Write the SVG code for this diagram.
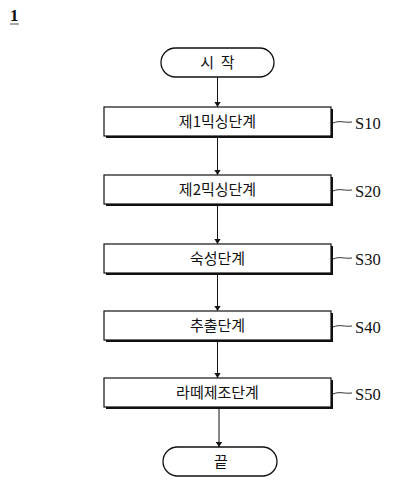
<svg xmlns="http://www.w3.org/2000/svg" width="409" height="492" viewBox="0 0 409 492">
<defs>
<marker id="arr" viewBox="0 0 8 10" refX="8" refY="5" markerWidth="5" markerHeight="7" markerUnits="userSpaceOnUse" orient="auto"><path d="M0,0 L8,5 L0,10 z" fill="#111"/></marker>
<style>
.box{fill:#fff;stroke:#111;stroke-width:1.2}
.sh{fill:#111}
.term{fill:#fff;stroke:#111;stroke-width:1.3}
.t{font-family:"Noto Sans CJK KR","Noto Sans",sans-serif;font-size:15px;fill:#111;text-anchor:middle}
.lab{font-family:"Liberation Serif",serif;font-size:16.5px;fill:#111}
.lead{fill:none;stroke:#333;stroke-width:1}
.con{stroke:#111;stroke-width:1;fill:none;marker-end:url(#arr)}
</style>
</defs>
<rect width="409" height="492" fill="#fff"/>
<g id="figlabel">
<text x="10" y="21" font-family="Liberation Serif,serif" font-weight="bold" font-size="17" fill="#111">1</text>
<line x1="10" y1="24" x2="19" y2="24" stroke="#555" stroke-width="1"/>
</g>
<g id="start">
<rect class="term" x="161" y="48" width="113" height="29" rx="14.5"/>
<text class="t" x="217.5" y="68" xml:space="preserve">시  작</text>
</g>
<g id="s10">
<rect class="sh" x="106" y="109" width="227" height="29"/>
<rect class="box" x="104" y="107" width="227" height="29"/>
<text class="t" x="217.5" y="127">제1믹싱단계</text>
<path class="lead" d="M333,123 C340,120 344,123 352,122"/>
<text class="lab" x="355" y="129">S10</text>
</g>
<g id="s20">
<rect class="sh" x="106" y="177" width="227" height="29"/>
<rect class="box" x="104" y="175" width="227" height="29"/>
<text class="t" x="217.5" y="195">제2믹싱단계</text>
<path class="lead" d="M333,191 C340,188 344,191 352,190"/>
<text class="lab" x="355" y="197">S20</text>
</g>
<g id="s30">
<rect class="sh" x="106" y="246" width="227" height="29"/>
<rect class="box" x="104" y="244" width="227" height="29"/>
<text class="t" x="217.5" y="264">숙성단계</text>
<path class="lead" d="M333,259 C340,256 344,259 352,258"/>
<text class="lab" x="355" y="265">S30</text>
</g>
<g id="s40">
<rect class="sh" x="106" y="313" width="227" height="29"/>
<rect class="box" x="104" y="311" width="227" height="29"/>
<text class="t" x="217.5" y="331">추출단계</text>
<path class="lead" d="M333,327 C340,324 344,327 352,326"/>
<text class="lab" x="355" y="333">S40</text>
</g>
<g id="s50">
<rect class="sh" x="106" y="380" width="227" height="29"/>
<rect class="box" x="104" y="378" width="227" height="29"/>
<text class="t" x="217.5" y="398">라떼제조단계</text>
<path class="lead" d="M333,394 C340,391 344,394 352,393"/>
<text class="lab" x="355" y="400">S50</text>
</g>
<g id="end">
<rect class="term" x="163" y="447" width="114" height="29" rx="14.5"/>
<text class="t" x="221" y="467">끝</text>
</g>
<g id="connectors">
<line class="con" x1="217.5" y1="77" x2="217.5" y2="107"/>
<line class="con" x1="217.5" y1="138" x2="217.5" y2="175"/>
<line class="con" x1="217.5" y1="206" x2="217.5" y2="244"/>
<line class="con" x1="217.5" y1="275" x2="217.5" y2="311"/>
<line class="con" x1="217.5" y1="342" x2="217.5" y2="378"/>
<line class="con" x1="219" y1="409" x2="219" y2="447"/>
</g>
</svg>
